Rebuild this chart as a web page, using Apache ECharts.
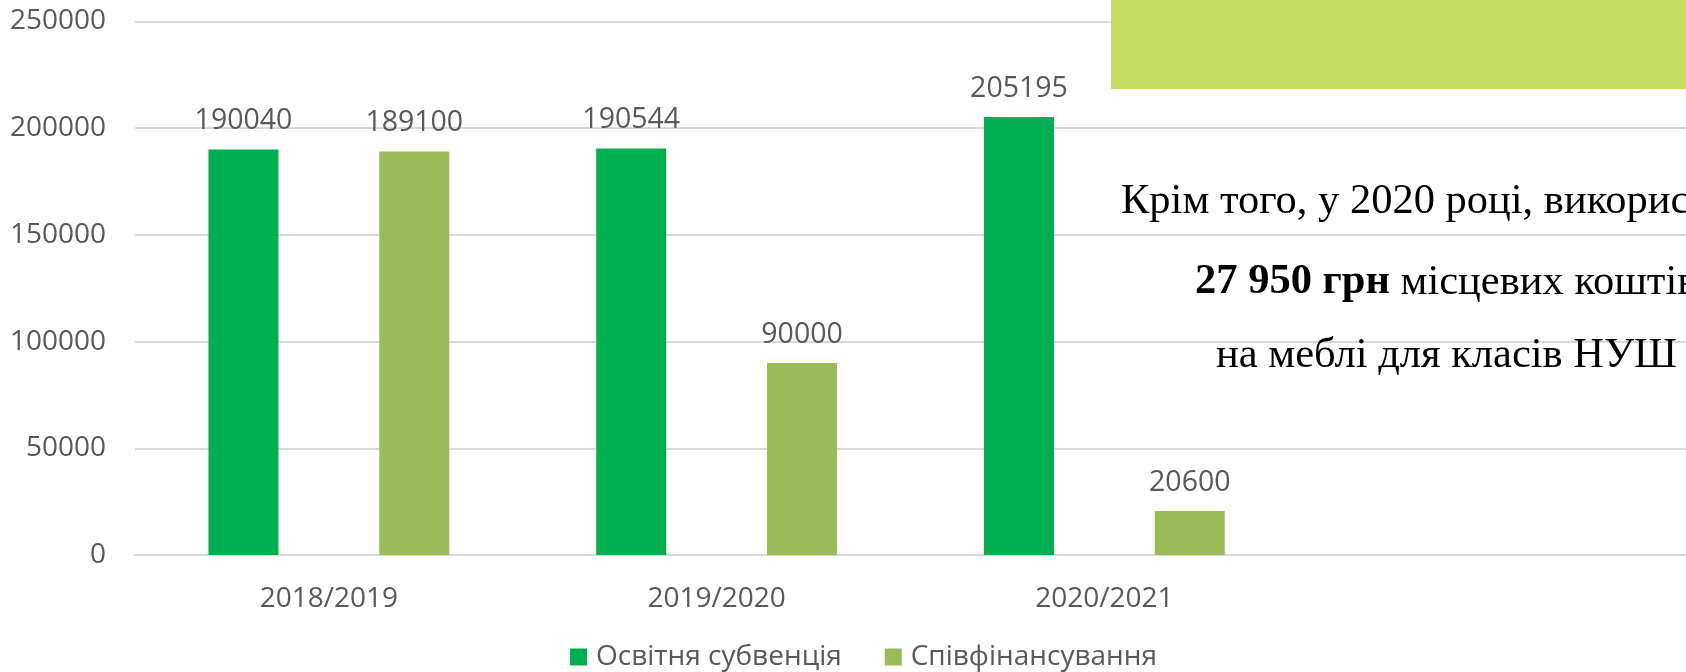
<!DOCTYPE html>
<html>
<head>
<meta charset="utf-8">
<script src="https://cdn.jsdelivr.net/npm/echarts@6/dist/echarts.min.js"></script>
<style>
html,body{margin:0;padding:0;background:#fff;}
#chart{width:1686px;height:672px;}
</style>
</head>
<body>
<div id="chart"></div>
<script>
const categories = ['2018/2019', '2019/2020', '2020/2021'];
const seriesNames = ['Освітня субвенція', 'Співфінансування'];
const subvention = [190040, 190544, 205195];
const cofinancing = [189100, 90000, 20600];
const yTicks = [0, 50000, 100000, 150000, 200000, 250000];
const noteLine1 = 'Крім того, у 2020 році, використано';
const noteBold = '27 950 грн';
const noteLine2Rest = ' місцевих коштів';
const noteLine3 = 'на меблі для класів НУШ';

const FONT = '"Open Sans", "Noto Sans", sans-serif';
const SERIF = '"Liberation Serif", "Times New Roman", serif';
const TXT = '#595959';

const chart = echarts.init(document.getElementById('chart'), null, {renderer: 'canvas'});
chart.setOption({
  animation: false,
  backgroundColor: '#fff',
  textStyle: {fontFamily: FONT},
  grid: {left: 135, top: 21.5, width: 1556, bottom: 117, containLabel: false},
  legend: {
    left: 565, top: 638,
    itemWidth: 17, itemHeight: 17, itemGap: 43,
    icon: 'rect',
    textStyle: {fontSize: 28, color: TXT, fontFamily: FONT, padding: [0, 0, 0, 4]},
    data: seriesNames
  },
  xAxis: {
    type: 'category',
    data: categories,
    max: 3,
    axisLine: {show: true, lineStyle: {color: '#d9d9d9', width: 2}},
    axisTick: {show: false},
    axisLabel: {fontSize: 28, color: TXT, margin: 30, fontFamily: FONT,
      formatter: v => (v == null ? '' : v)},
    splitLine: {show: false}
  },
  yAxis: {
    type: 'value',
    min: yTicks[0], max: yTicks[yTicks.length - 1], interval: yTicks[1] - yTicks[0],
    axisLine: {show: false}, axisTick: {show: false},
    axisLabel: {fontSize: 28, color: TXT, margin: 29, fontFamily: FONT, formatter: v => String(v)},
    splitLine: {lineStyle: {color: '#d9d9d9', width: 2}}
  },
  series: [
    {
      name: seriesNames[0], type: 'bar', data: subvention,
      barWidth: 70, barGap: '144%',
      itemStyle: {color: '#00B050'},
      label: {show: true, position: 'top', distance: 14, fontSize: 28.5, color: TXT, fontFamily: FONT}
    },
    {
      name: seriesNames[1], type: 'bar', data: cofinancing,
      barWidth: 70,
      itemStyle: {color: '#9BBB59'},
      label: {show: true, position: 'top', distance: 14, fontSize: 28.5, color: TXT, fontFamily: FONT}
    }
  ],
  graphic: [
    {type: 'rect', left: 1111, top: 0, z: 100, shape: {width: 580, height: 89}, style: {fill: '#C5DB62'}},
    {type: 'text', left: 1121, top: 180, z: 100, style: {text: noteLine1, font: '42.5px ' + SERIF, fill: '#000'}},
    {type: 'text', left: 1195, top: 261, z: 100, style: {
      text: '{b|' + noteBold + '}{n|' + noteLine2Rest + '}',
      rich: {
        b: {font: 'bold 42.5px ' + SERIF, fill: '#000'},
        n: {font: '42.5px ' + SERIF, fill: '#000'}
      }
    }},
    {type: 'text', left: 1216, top: 334, z: 100, style: {text: noteLine3, font: '42.5px ' + SERIF, fill: '#000'}}
  ]
});
</script>
</body>
</html>
